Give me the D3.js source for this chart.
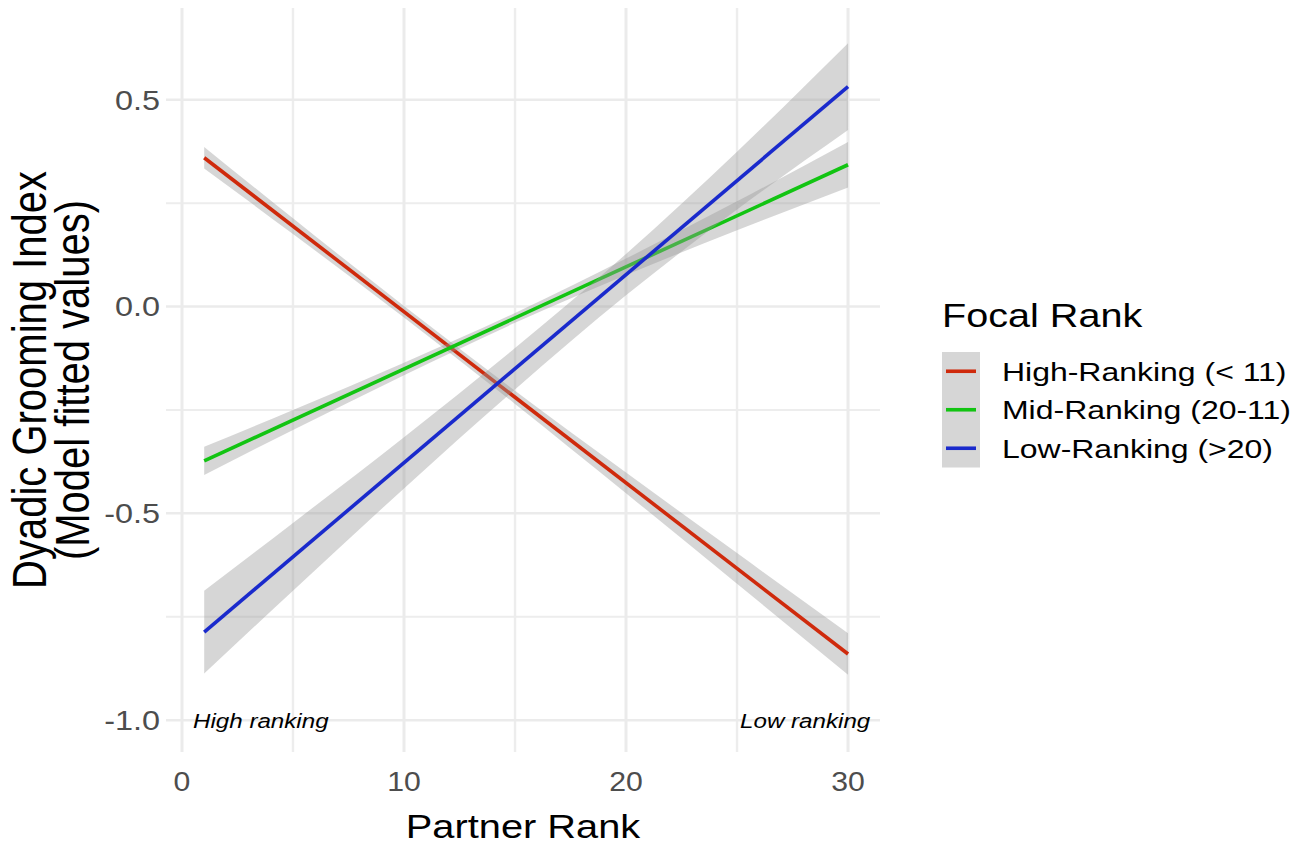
<!DOCTYPE html>
<html>
<head>
<meta charset="utf-8">
<script src="https://cdn.jsdelivr.net/npm/d3@7"></script>
<style>
  html, body { margin: 0; padding: 0; background: #ffffff; }
  svg { display: block; font-family: "Liberation Sans", Arial, Helvetica, sans-serif; }
</style>
</head>
<body>
<svg id="chart" width="1311" height="845"></svg>
<script>
// Focal-rank groups and their fitted regression lines (partner rank 1 to 30)
const groups = ["High-Ranking (< 11)", "Mid-Ranking (20-11)", "Low-Ranking (>20)"];
const groupColors = ["#CF2A0C", "#12C412", "#1A2ACC"];
const rankStart = 1;
const rankEnd = 30;
const fitAtStart = [0.36, -0.373, -0.787];
const fitAtEnd = [-0.84, 0.343, 0.532];

// Half-width of the confidence band, read at these partner ranks
const bandRanks = [1, 5, 10, 15, 20, 25, 30];
const bandHigh = [0.026, 0.019, 0.014, 0.016, 0.025, 0.037, 0.05];
const bandMid = [0.034, 0.024, 0.015, 0.012, 0.02, 0.035, 0.055];
const bandLow = [0.1, 0.082, 0.062, 0.05, 0.05, 0.07, 0.105];
const bandHalfWidths = [bandHigh, bandMid, bandLow];

// Axis ticks
const xMajor = [0, 10, 20, 30];
const xMinor = [5, 15, 25];
const yMajor = [-1.0, -0.5, 0.0, 0.5];
const yMinor = [-0.75, -0.25, 0.25];

// Corner annotations on the rank axis
const cornerNotes = ["High ranking", "Low ranking"];
const cornerNoteX = [0.5, 31.0];
const cornerNoteY = [-1.0, -1.0];

const svg = d3.select("#chart");
const SX = 1.22; // horizontal text stretch used throughout

const panel = { left: 166, right: 880, top: 8, bottom: 752 };
const x = d3.scaleLinear().domain([-0.72, 31.44]).range([panel.left, panel.right]);
const y = d3.scaleLinear().domain([-1.077, 0.722]).range([panel.bottom, panel.top]);

function stretchedText(g, px, py, str, opts) {
  const t = g.append("text")
    .attr("transform", `translate(${px},${py}) scale(${opts.sx || SX},1)`)
    .attr("text-anchor", opts.anchor || "start")
    .attr("font-size", opts.size)
    .attr("fill", opts.fill || "#000")
    .text(str);
  if (opts.italic) t.attr("font-style", "italic");
  if (opts.dy) t.attr("dy", opts.dy);
  return t;
}

// Grid
const grid = svg.append("g");
grid.selectAll("line.yminor").data(yMinor).join("line")
  .attr("x1", panel.left).attr("x2", panel.right)
  .attr("y1", d => y(d)).attr("y2", d => y(d))
  .attr("stroke", "#ededed").attr("stroke-width", 2);
grid.selectAll("line.xminor").data(xMinor).join("line")
  .attr("y1", panel.top).attr("y2", panel.bottom)
  .attr("x1", d => x(d)).attr("x2", d => x(d))
  .attr("stroke", "#ededed").attr("stroke-width", 2.4);
grid.selectAll("line.ymajor").data(yMajor).join("line")
  .attr("x1", panel.left).attr("x2", panel.right)
  .attr("y1", d => y(d)).attr("y2", d => y(d))
  .attr("stroke", "#ebebeb").attr("stroke-width", 2.5);
grid.selectAll("line.xmajor").data(xMajor).join("line")
  .attr("y1", panel.top).attr("y2", panel.bottom)
  .attr("x1", d => x(d)).attr("x2", d => x(d))
  .attr("stroke", "#ebebeb").attr("stroke-width", 3);

// Fitted lines with confidence ribbons, drawn group by group
const marks = svg.append("g");
groups.forEach((name, i) => {
  const fit = d3.scaleLinear().domain([rankStart, rankEnd]).range([fitAtStart[i], fitAtEnd[i]]);
  const pts = bandRanks.map((r, j) => ({ r, lo: fit(r) - bandHalfWidths[i][j], hi: fit(r) + bandHalfWidths[i][j] }));
  const area = d3.area()
    .x(d => x(d.r)).y0(d => y(d.lo)).y1(d => y(d.hi))
    .curve(d3.curveMonotoneX);
  marks.append("path").datum(pts)
    .attr("d", area)
    .attr("fill", "#999999").attr("fill-opacity", 0.4);
  const line = d3.line().x(d => x(d)).y(d => y(fit(d)));
  marks.append("path").datum([rankStart, rankEnd])
    .attr("d", line)
    .attr("fill", "none")
    .attr("stroke", groupColors[i])
    .attr("stroke-width", 3.6);
});

// Corner annotations
cornerNotes.forEach((s, i) => {
  stretchedText(svg, x(cornerNoteX[i]), y(cornerNoteY[i]), s,
    { size: 21, italic: true, anchor: i === 0 ? "start" : "end", dy: "0.35em", sx: 1.15 });
});

// Axis tick labels
const axisG = svg.append("g");
const yFmt = d3.format(".1f");
yMajor.forEach(v => {
  stretchedText(axisG, 160, y(v), yFmt(v).replace("−", "-"),
    { size: 27, anchor: "end", fill: "#4d4d4d", dy: "0.36em", sx: 1.2 });
});
xMajor.forEach(v => {
  stretchedText(axisG, x(v), 791, String(v),
    { size: 27, anchor: "middle", fill: "#4d4d4d", sx: 1.12 });
});

// Axis titles
stretchedText(svg, (panel.left + panel.right) / 2, 838, "Partner Rank",
  { size: 34, anchor: "middle", sx: 1.17 });

const yTitle = svg.append("g")
  .attr("transform", `translate(0,${(panel.top + panel.bottom) / 2}) rotate(-90) scale(1,1.2)`);
yTitle.append("text").attr("x", 0).attr("y", 38)
  .attr("text-anchor", "middle").attr("font-size", 40).attr("fill", "#000")
  .text("Dyadic Grooming Index");
yTitle.append("text").attr("x", 0).attr("y", 74)
  .attr("text-anchor", "middle").attr("font-size", 40).attr("fill", "#000")
  .text("(Model fitted values)");

// Legend
const legend = svg.append("g");
stretchedText(legend, 942, 327, "Focal Rank", { size: 33, sx: 1.2 });
const keyTop = 352, keyH = 38.5, keyW = 38, keyX = 942;
legend.append("rect")
  .attr("x", keyX).attr("y", keyTop)
  .attr("width", keyW).attr("height", keyH * groups.length)
  .attr("fill", "#999999").attr("fill-opacity", 0.4);
groups.forEach((name, i) => {
  const cy = keyTop + keyH * i + keyH / 2;
  legend.append("line")
    .attr("x1", keyX + 4).attr("x2", keyX + keyW - 4)
    .attr("y1", cy).attr("y2", cy)
    .attr("stroke", groupColors[i]).attr("stroke-width", 3.6);
  stretchedText(legend, 1002, cy, name, { size: 26, dy: "0.36em", sx: 1.23 });
});
</script>
</body>
</html>
